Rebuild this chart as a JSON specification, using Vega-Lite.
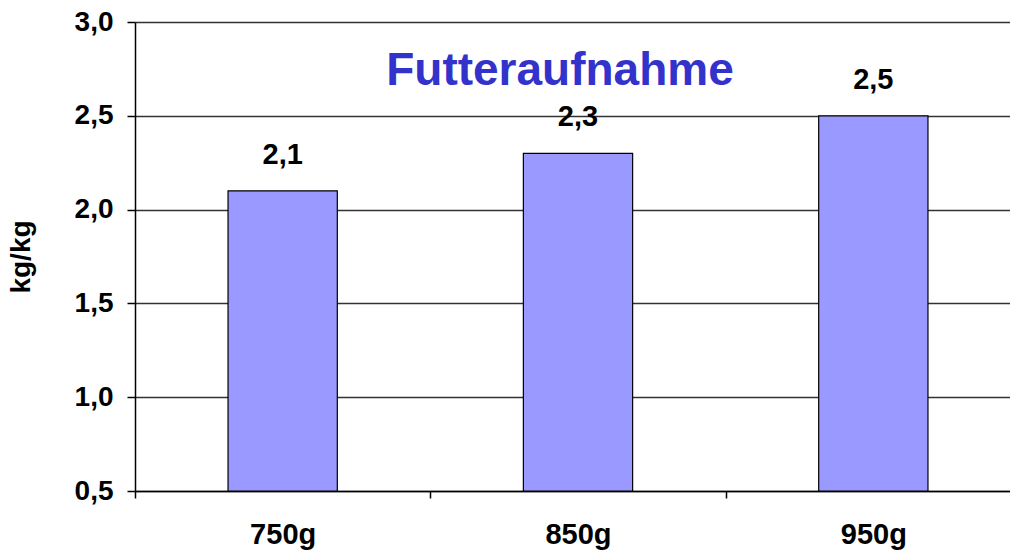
{
  "$schema": "https://vega.github.io/schema/vega-lite/v6.json",
  "width": 886,
  "height": 469,
  "autosize": "none",
  "padding": {"left": 135, "top": 22, "right": 0, "bottom": 61},
  "background": "white",
  "config": {
    "view": {"stroke": null},
    "font": "Liberation Sans",
    "locale": {"number": {"decimal": ",", "thousands": ".", "grouping": [3], "currency": ["", " €"]}}
  },
  "title": {
    "text": "Futteraufnahme",
    "color": "#3333cc",
    "fontSize": 46,
    "font": "Liberation Sans",
    "fontWeight": "bold",
    "anchor": "middle",
    "frame": "group",
    "dx": -18,
    "offset": -87
  },
  "data": {
    "values": [
      {"gruppe": "750g", "wert": 2.1},
      {"gruppe": "850g", "wert": 2.3},
      {"gruppe": "950g", "wert": 2.5}
    ]
  },
  "encoding": {
    "x": {
      "field": "gruppe",
      "type": "nominal",
      "sort": null,
      "scale": {"paddingInner": 0, "paddingOuter": 0},
      "axis": {
        "title": null,
        "labelAngle": 0,
        "labelFontSize": 29,
        "labelFontWeight": "bold",
        "labelColor": "black",
        "labelPadding": 22,
        "domainColor": "black",
        "domainWidth": 1.5,
        "tickBand": "extent",
        "tickSize": 7,
        "tickColor": "black",
        "tickWidth": 1.5,
        "grid": false
      }
    },
    "y": {
      "field": "wert",
      "type": "quantitative",
      "scale": {"domain": [0.5, 3.0], "zero": false, "nice": false},
      "axis": {
        "title": "kg/kg",
        "titleFontSize": 28,
        "titleFontWeight": "bold",
        "titleColor": "black",
        "titlePadding": 39,
        "values": [0.5, 1.0, 1.5, 2.0, 2.5, 3.0],
        "format": ".1f",
        "labelFontSize": 28,
        "labelFontWeight": "bold",
        "labelColor": "black",
        "labelPadding": 14,
        "tickSize": 8,
        "tickColor": "black",
        "tickWidth": 1.5,
        "domainColor": "black",
        "domainWidth": 1.5,
        "grid": true,
        "gridColor": "#333333",
        "gridWidth": 1.5,
        "gridOpacity": 1
      }
    }
  },
  "layer": [
    {
      "mark": {"type": "bar", "color": "#9999ff", "stroke": "black", "strokeWidth": 1.2, "width": {"band": 0.37}},
      "encoding": {"y2": {"datum": 0.5}}
    },
    {
      "mark": {"type": "text", "fontSize": 29, "fontWeight": "bold", "color": "black", "baseline": "alphabetic", "dy": -27},
      "encoding": {"text": {"field": "wert", "type": "quantitative", "format": ".1f"}}
    }
  ]
}
